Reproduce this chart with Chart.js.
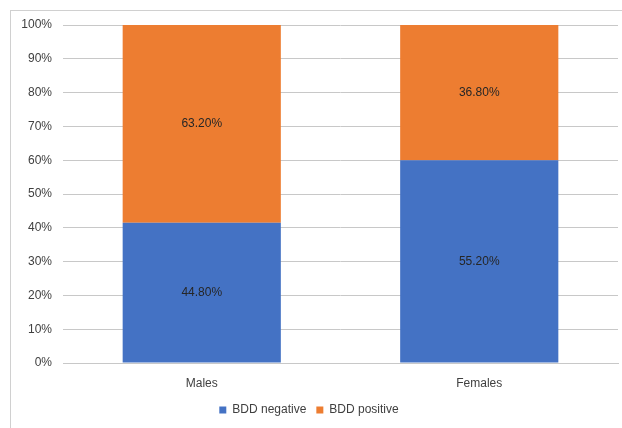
<!DOCTYPE html>
<html>
<head>
<meta charset="utf-8">
<script src="https://cdn.jsdelivr.net/npm/chart.js@4/dist/chart.umd.min.js"></script>
<style>
  html, body { margin: 0; padding: 0; background: #fff; }
  #wrap { position: relative; width: 622px; height: 428px; overflow: hidden; }
  #frame { position: absolute; left: 10px; top: 10px; width: 640px; height: 440px; border: 1px solid #d0d0d0; box-sizing: border-box; }
  #c { position: absolute; left: 0; top: 0; }
</style>
</head>
<body>
<div id="wrap">
  <div id="frame"></div>
  <canvas id="c" width="622" height="428"></canvas>
</div>
<script>
// Survey groups and reported percentages per BDD status
const categories = ['Males', 'Females'];
const bddNegative = [44.8, 55.2];
const bddPositive = [63.2, 36.8];
const yTicks = [0, 10, 20, 30, 40, 50, 60, 70, 80, 90, 100];

// 100% stacked: each column is scaled so its parts fill the full height
const totals = categories.map((_, i) => bddNegative[i] + bddPositive[i]);
const negShare = bddNegative.map((v, i) => v / totals[i] * 100);
const posShare = bddPositive.map((v, i) => v / totals[i] * 100);
const rawValues = [bddNegative, bddPositive];

const FONT = "'Liberation Sans', 'DejaVu Sans', sans-serif";

// Writes the reported value in the middle of each segment
const segmentLabels = {
  id: 'segmentLabels',
  afterDatasetsDraw(chart) {
    const ctx = chart.ctx;
    ctx.save();
    ctx.font = '12px ' + FONT;
    ctx.fillStyle = '#262626';
    ctx.textAlign = 'center';
    ctx.textBaseline = 'middle';
    chart.data.datasets.forEach((ds, di) => {
      chart.getDatasetMeta(di).data.forEach((bar, i) => {
        const p = bar.getCenterPoint();
        ctx.fillText(rawValues[di][i].toFixed(2) + '%', p.x, p.y);
      });
    });
    ctx.restore();
  }
};

new Chart(document.getElementById('c'), {
  type: 'bar',
  data: {
    labels: categories,
    datasets: [
      { label: 'BDD negative', data: negShare, backgroundColor: '#4472C4', categoryPercentage: 0.57, barPercentage: 1 },
      { label: 'BDD positive', data: posShare, backgroundColor: '#ED7D31', categoryPercentage: 0.57, barPercentage: 1 }
    ]
  },
  options: {
    responsive: false,
    animation: false,
    layout: { padding: { top: 25, right: 4, bottom: 2, left: 0 } },
    plugins: {
      tooltip: { enabled: false },
      legend: {
        position: 'bottom',
        labels: {
          boxWidth: 7, boxHeight: 7, padding: 10,
          color: '#404040',
          font: { family: FONT, size: 12 }
        }
      }
    },
    scales: {
      x: {
        stacked: true,
        grid: { display: false, drawTicks: false },
        border: { display: true, color: '#c8c8c8' },
        ticks: { color: '#404040', padding: 13, font: { family: FONT, size: 12 } },
        afterFit(scale) { scale.height = 31; }
      },
      y: {
        stacked: true,
        min: 0, max: 100,
        afterBuildTicks(scale) { scale.ticks = yTicks.map(v => ({ value: v })); },
        grid: { color: '#c8c8c8', drawTicks: false },
        border: { display: false },
        ticks: {
          color: '#404040', padding: 11,
          font: { family: FONT, size: 12 },
          callback: v => v + '%'
        },
        afterFit(scale) { scale.width = 63; }
      }
    }
  },
  plugins: [segmentLabels]
});
</script>
</body>
</html>
